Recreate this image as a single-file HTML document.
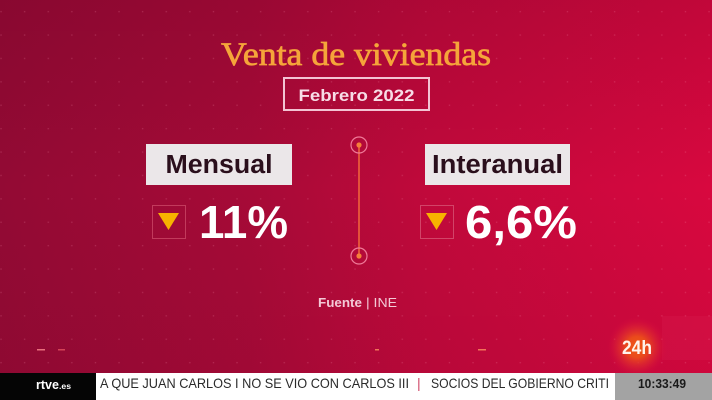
<!DOCTYPE html>
<html><head><meta charset="utf-8">
<style>
html,body{margin:0;padding:0;background:#000;}
svg{display:block;}
</style></head>
<body>
<svg width="712" height="400" viewBox="0 0 712 400" xmlns="http://www.w3.org/2000/svg">
<defs>
<linearGradient id="bg" x1="0" y1="0" x2="1" y2="0">
<stop offset="0" stop-color="#930a34"/>
<stop offset="0.35" stop-color="#a60a37"/>
<stop offset="0.6" stop-color="#c0093b"/>
<stop offset="1" stop-color="#d8083f"/>
</linearGradient>
<linearGradient id="shade" x1="0" y1="0" x2="0" y2="1">
<stop offset="0" stop-color="#5a0020" stop-opacity="0.18"/>
<stop offset="0.5" stop-color="#5a0020" stop-opacity="0"/>
<stop offset="1" stop-color="#5a0020" stop-opacity="0.08"/>
</linearGradient>
<pattern id="dots" x="2" y="0" width="23.6" height="23.4" patternUnits="userSpaceOnUse">
<rect x="22" y="11" width="1.3" height="1.3" fill="#ff9ab8" opacity="0.22"/>
</pattern>
<radialGradient id="glow" cx="0.5" cy="0.5" r="0.5">
<stop offset="0" stop-color="#f05a14"/>
<stop offset="0.35" stop-color="#ea4a1c"/>
<stop offset="0.7" stop-color="#e02a30" stop-opacity="0.5"/>
<stop offset="1" stop-color="#d8083f" stop-opacity="0"/>
</radialGradient>
</defs>

<rect x="0" y="0" width="712" height="400" fill="url(#bg)"/>
<rect x="0" y="0" width="712" height="373" fill="url(#shade)"/>
<rect x="0" y="0" width="712" height="373" fill="url(#dots)"/>
<rect x="662" y="316" width="50" height="44" fill="#e8407a" opacity="0.1"/>

<!-- small dashes -->
<rect x="37" y="349" width="8" height="1.5" fill="#ff8a90" opacity="0.8"/>
<rect x="58" y="349" width="7" height="1.5" fill="#ff6a70" opacity="0.6"/>
<rect x="375" y="349" width="4" height="1.5" fill="#ff9060" opacity="0.8"/>
<rect x="478" y="349" width="8" height="1.5" fill="#ff9060" opacity="0.8"/>

<!-- Title -->
<text x="356" y="65" text-anchor="middle" font-family="Liberation Serif, serif" font-size="33" fill="#f5a53a" stroke="#f5a53a" stroke-width="0.7" textLength="270" lengthAdjust="spacingAndGlyphs">Venta de viviendas</text>

<!-- Febrero box -->
<rect x="284" y="78" width="145" height="32" fill="none" stroke="#f3c3d3" stroke-width="2"/>
<text x="356.5" y="101" text-anchor="middle" font-family="Liberation Sans, sans-serif" font-weight="bold" font-size="17" fill="#f7dce6" textLength="116" lengthAdjust="spacingAndGlyphs">Febrero 2022</text>

<!-- Mensual label -->
<rect x="146" y="144" width="146" height="41" fill="#ebe7e9"/>
<text x="219" y="173" text-anchor="middle" font-family="Liberation Sans, sans-serif" font-weight="bold" font-size="25.5" fill="#2a0f1c" textLength="107" lengthAdjust="spacingAndGlyphs">Mensual</text>

<!-- Interanual label -->
<rect x="425" y="144" width="145" height="41" fill="#ebe7e9"/>
<text x="497.5" y="173" text-anchor="middle" font-family="Liberation Sans, sans-serif" font-weight="bold" font-size="25.5" fill="#2a0f1c" textLength="131" lengthAdjust="spacingAndGlyphs">Interanual</text>

<!-- center line -->
<line x1="359" y1="145" x2="359" y2="256" stroke="#f26a3a" stroke-width="1.5"/>
<circle cx="359" cy="145" r="8" fill="none" stroke="#f07a98" stroke-width="1.2"/>
<circle cx="359" cy="145" r="2.6" fill="#f5803a"/>
<circle cx="359" cy="256" r="8" fill="none" stroke="#f07a98" stroke-width="1.2"/>
<circle cx="359" cy="256" r="2.6" fill="#f5803a"/>

<!-- Mensual value -->
<rect x="152.5" y="205.5" width="33" height="33" fill="none" stroke="#c23a5c" stroke-width="1"/>
<polygon points="158,213 179,213 168.5,230" fill="#f7b200"/>
<text x="199" y="238" font-family="Liberation Sans, sans-serif" font-weight="bold" font-size="46" fill="#ffffff" textLength="89" lengthAdjust="spacingAndGlyphs">11%</text>

<!-- Interanual value -->
<rect x="420.5" y="205.5" width="33" height="33" fill="none" stroke="#d24468" stroke-width="1"/>
<polygon points="426,213 447,213 436.5,230" fill="#f7b200"/>
<text x="465" y="238" font-family="Liberation Sans, sans-serif" font-weight="bold" font-size="46" fill="#ffffff" textLength="112" lengthAdjust="spacingAndGlyphs">6,6%</text>

<!-- Fuente -->
<text x="318" y="307" font-family="Liberation Sans, sans-serif" font-weight="bold" font-size="12.5" fill="#f3c9d6" textLength="44" lengthAdjust="spacingAndGlyphs">Fuente</text>
<text x="366" y="307" font-family="Liberation Sans, sans-serif" font-size="12.5" fill="#f3c9d6" textLength="31" lengthAdjust="spacingAndGlyphs">| INE</text>

<!-- 24h logo -->
<circle cx="637" cy="347" r="30" fill="url(#glow)"/>
<text x="637" y="354" text-anchor="middle" font-family="Liberation Sans, sans-serif" font-weight="bold" font-size="19" fill="#fff4ec" textLength="30" lengthAdjust="spacingAndGlyphs">24h</text>

<!-- Ticker -->
<rect x="0" y="373" width="96" height="27" fill="#050505"/>
<text x="36" y="389" font-family="Liberation Sans, sans-serif" font-weight="bold" font-size="13" fill="#ffffff" textLength="23" lengthAdjust="spacingAndGlyphs">rtve</text>
<text x="59" y="389" font-family="Liberation Sans, sans-serif" font-weight="bold" font-size="8" fill="#ffffff" textLength="12" lengthAdjust="spacingAndGlyphs">.es</text>
<rect x="96" y="373" width="519" height="27" fill="#ffffff"/>
<text x="100" y="388" font-family="Liberation Sans, sans-serif" font-size="14" fill="#2a2a2a" textLength="309" lengthAdjust="spacingAndGlyphs">A QUE JUAN CARLOS I NO SE VIO CON CARLOS III</text>
<text x="417" y="388" font-family="Liberation Sans, sans-serif" font-size="14" fill="#d04a6a">|</text>
<text x="431" y="388" font-family="Liberation Sans, sans-serif" font-size="14" fill="#2a2a2a" textLength="178" lengthAdjust="spacingAndGlyphs">SOCIOS DEL GOBIERNO CRITI</text>
<rect x="615" y="373" width="97" height="27" fill="#a3a3a3"/>
<text x="638" y="388" font-family="Liberation Sans, sans-serif" font-weight="bold" font-size="13" fill="#1a1a1a" textLength="48" lengthAdjust="spacingAndGlyphs">10:33:49</text>
</svg>
</body></html>
